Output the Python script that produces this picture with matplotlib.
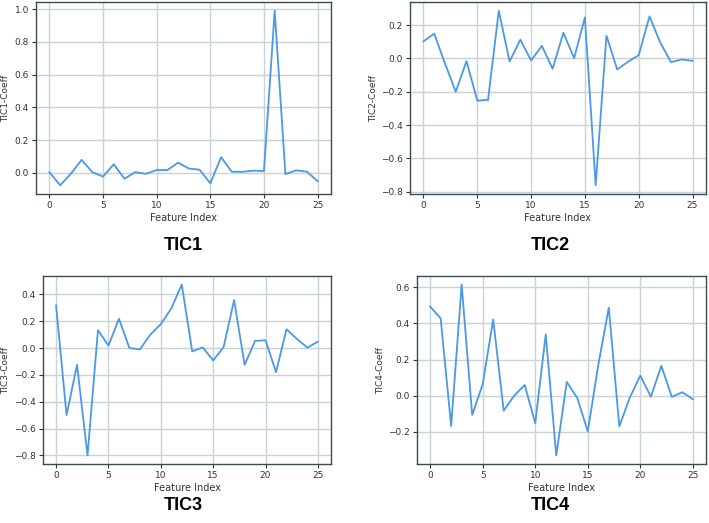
import matplotlib
matplotlib.use("Agg")
import matplotlib.pyplot as plt
import numpy as np

features = np.arange(26)

tic1 = [0.005, -0.075, -0.005, 0.08, 0.005, -0.022, 0.053, -0.035, 0.005, -0.005,
        0.018, 0.018, 0.063, 0.027, 0.02, -0.063, 0.096, 0.008, 0.007, 0.014,
        0.012, 0.99, -0.007, 0.016, 0.008, -0.05]
tic2 = [0.103, 0.149, -0.03, -0.2, -0.016, -0.253, -0.249, 0.287, -0.018, 0.113,
        -0.012, 0.076, -0.062, 0.155, 0.002, 0.247, -0.762, 0.137, -0.066, -0.02,
        0.02, 0.253, 0.096, -0.022, -0.006, -0.014]
tic3 = [0.317, -0.5, -0.125, -0.8, 0.133, 0.018, 0.218, 0.0, -0.01, 0.1,
        0.178, 0.295, 0.473, -0.025, 0.005, -0.093, 0.008, 0.358, -0.125, 0.053,
        0.058, -0.18, 0.14, 0.068, 0.003, 0.048]
tic4 = [0.493, 0.428, -0.168, 0.615, -0.107, 0.063, 0.422, -0.083, 0.0, 0.059,
        -0.152, 0.339, -0.331, 0.076, -0.013, -0.198, 0.17, 0.487, -0.17, -0.01,
        0.111, -0.006, 0.165, -0.007, 0.019, -0.02]

names = ["TIC1", "TIC2", "TIC3", "TIC4"]
series = [tic1, tic2, tic3, tic4]

# axes boxes in figure pixels (left, top, right, bottom) for a 709x523 canvas
W, H = 709, 523
boxes = [(36, 2, 331, 194), (410, 2, 706, 194),
         (43, 276, 331, 464), (417, 276, 706, 464)]
# x pixel where the right edge of each rotated y label sits
ylabel_px = [10, 378, 10, 385]
title_pos = [(183, 245), (550, 245), (183, 506), (550, 506)]

line_color = "#4a98e6"
grid_color = "#c9d2d6"
spine_color = "#3c4a52"

fig = plt.figure(figsize=(W / 100, H / 100), dpi=100)

for name, vals, (l, t, r, b), lp, (tx, ty) in zip(names, series, boxes, ylabel_px, title_pos):
    ax = fig.add_axes([l / W, 1 - b / H, (r - l) / W, (b - t) / H])
    ax.plot(features, vals, color=line_color, lw=1.3)
    ax.set_xticks([0, 5, 10, 15, 20, 25])
    ax.grid(True, color=grid_color, lw=1.0)
    ax.set_axisbelow(True)
    ax.set_xlabel("Feature Index", fontsize=7, color="#333333", labelpad=2)
    ax.set_ylabel(f"{name}-Coeff", fontsize=6.5, color="#333333")
    ax.yaxis.set_label_coords((lp - l) / (r - l), 0.5)
    ax.tick_params(labelsize=6.5, colors="#333333", length=3, pad=2)
    for s in ax.spines.values():
        s.set_color(spine_color)
        s.set_linewidth(1.0)
    fig.text(tx / W, 1 - ty / H, name, fontsize=13, fontweight="bold",
             family="Liberation Sans", ha="center", va="center")

fig.savefig("out.png", dpi=100)
